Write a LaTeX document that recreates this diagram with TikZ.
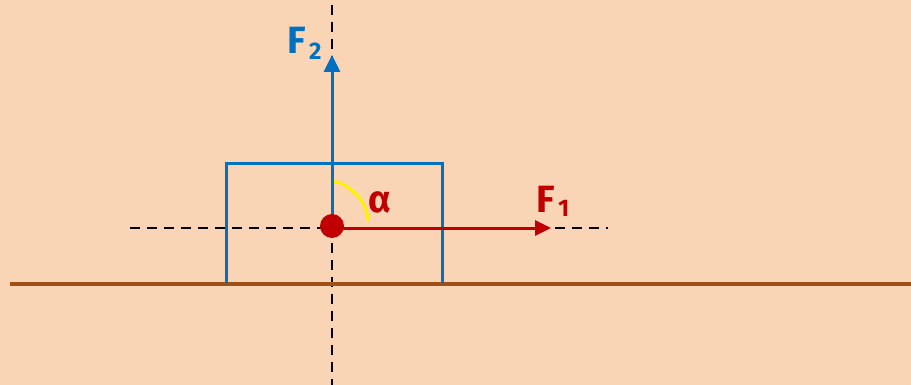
\documentclass[tikz,border=0pt]{standalone}
\usepackage{fontspec}
\setmainfont{Fira Sans}
\usetikzlibrary{arrows.meta}
\definecolor{bg}{RGB}{250,213,181}
\definecolor{ground}{RGB}{160,80,20}
\definecolor{fblue}{RGB}{0,112,192}
\definecolor{fred}{RGB}{192,0,0}
\definecolor{angyel}{RGB}{255,240,0}
\tikzset{
  guide/.style={black,line width=2pt,dash pattern=on 10pt off 7pt},
  force/.style={line width=3pt,-{Triangle[length=17pt,width=16pt]}},
  lbl/.style={font=\bfseries\fontsize{38}{40}\selectfont,inner sep=0pt,anchor=base west},
  sub/.style={font=\bfseries\fontsize{24}{26}\selectfont,inner sep=0pt,anchor=base west}
}
\begin{document}
\begin{tikzpicture}[x=1pt,y=-1pt]
\fill[bg] (0,0) rectangle (911,385);
\useasboundingbox (0,0) rectangle (911,385);
\coordinate (O) at (332,228);
\coordinate (vtop) at (332,5);
\coordinate (vbot) at (332,385);
\coordinate (hl) at (130,228);
\coordinate (hr) at (608,228);
\coordinate (F2tip) at (332,55);
\coordinate (F1tip) at (551,228);
\coordinate (gl) at (10,284);
\coordinate (gr) at (911,284);
\coordinate (bl) at (226,284);
\coordinate (br) at (442,284);
\coordinate (btl) at (226,164);
\coordinate (btr) at (442,164);
% guides
\draw[guide] (vtop) -- (vbot);
\draw[guide] (hl) -- (hr);
% ground
\draw[ground,line width=3.5pt] (gl) -- (gr);
% box
\draw[fblue,line width=3pt] (bl) -- (btl) -- (btr) -- (br);
% angle arc
\coordinate (a1) at (333,181);
\coordinate (a2) at (368,221);
\draw[angyel,line width=3pt] (a1) .. controls (352,185) and (368,203) .. (a2);
% forces
\draw[force,fblue] (O) -- (F2tip);
\draw[fred,line width=3pt,-{Triangle[length=16pt,width=15pt]}] (O) -- (F1tip);
\fill[fred] (O) ++(0,-2) circle (12);
% labels
\node[lbl,text=fblue] (F2) at (287,54) {F};
\node[sub,text=fblue] (F2s) at (309,60) {2};
\node[lbl,text=fred] (F1) at (536,212) {F};
\node[sub,text=fred] (F1s) at (558,216) {1};
\node[lbl,text=fred] (alpha) at (368,212) {α};
\end{tikzpicture}
\end{document}
